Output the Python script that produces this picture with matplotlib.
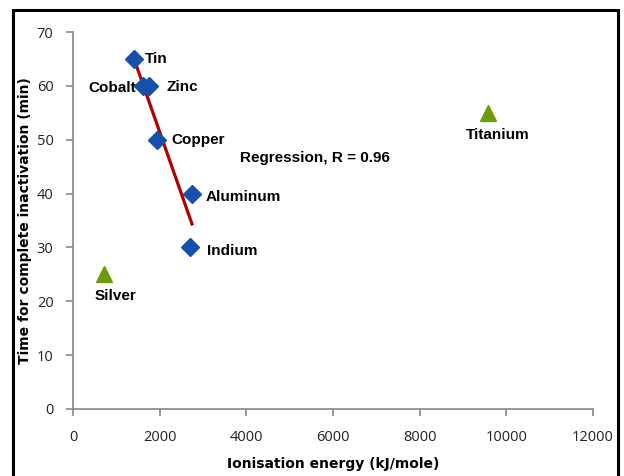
import numpy as np
import matplotlib.pyplot as plt
from matplotlib.patches import Rectangle

# blue diamonds (fitted group)
metals = ["Tin", "Cobalt", "Zinc", "Copper", "Aluminum", "Indium"]
energy = [1408, 1615, 1754, 1938, 2746, 2700]
minutes = [65, 60, 60, 50, 40, 30]

# green triangles (outliers)
others = ["Silver", "Titanium"]
other_energy = [715, 9577]
other_minutes = [25, 55]

fig = plt.figure(figsize=(6.24, 4.76), dpi=100)
ax = fig.add_axes([73/624, 1 - 409/476, 520/624, 377/476])

blue = "#1750AC"
green = "#6C9C0B"

# regression line over the blue group
k, b = np.polyfit(energy, minutes, 1)
xs = np.array([min(energy), max(energy)])
ax.plot(xs, k*xs + b, color="#B00000", lw=2.3, zorder=2)

ax.plot(energy, minutes, "D", color=blue, ms=9, zorder=3, ls="none")
ax.plot(other_energy, other_minutes, "^", color=green, ms=11, zorder=3, ls="none")

lab = dict(fontsize=11, fontweight="bold", family="Liberation Sans",
           textcoords="offset pixels", va="center")
offs = {"Tin": (11, 0, "left"), "Cobalt": (-7, -2, "right"), "Zinc": (17, -1, "left"),
        "Copper": (14, 0, "left"), "Aluminum": (14, -3, "left"), "Indium": (17, -4, "left"),
        "Silver": (12, -22, "center"), "Titanium": (10, -22, "center")}
for name, x, y in zip(metals + others, energy + other_energy, minutes + other_minutes):
    dx, dy, ha = offs[name]
    ax.annotate(name, (x, y), xytext=(dx, dy), ha=ha, **lab)

ax.text(3850, 46.6, "Regression, R = 0.96", fontsize=11, fontweight="bold",
        family="Liberation Sans", va="center")

ax.set_xlim(0, 12000)
ax.set_ylim(0, 70)
ax.set_xticks(range(0, 12001, 2000))
ax.set_yticks(range(0, 71, 10))
for s in ["top", "right"]:
    ax.spines[s].set_visible(False)
for s in ["left", "bottom"]:
    ax.spines[s].set_color("#888888")
    ax.spines[s].set_linewidth(1.2)
ax.tick_params(colors="#888888", labelcolor="#222222", labelsize=10.5, length=5, width=1.2)
ax.tick_params(axis="x", pad=10)
ax.tick_params(axis="y", pad=9)
for t in ax.get_xticklabels() + ax.get_yticklabels():
    t.set_family("Open Sans")

ax.set_xlabel("Ionisation energy (kJ/mole)", fontsize=10, fontweight="bold", labelpad=9)
ax.set_ylabel("Time for complete inactivation (min)", fontsize=10, fontweight="bold")
ax.yaxis.set_label_coords(-0.079, 0.5)

fig.patches.append(Rectangle((13/624, -0.02), 605/624, 1 - 10/476 + 0.02,
                             transform=fig.transFigure, fill=False, ec="black", lw=2.2))

fig.savefig("out.png", dpi=100)
